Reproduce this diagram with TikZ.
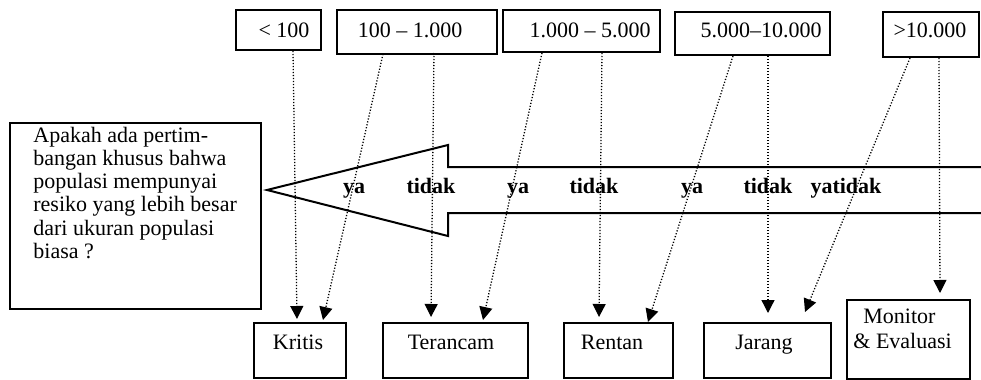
\documentclass[tikz,border=0pt]{standalone}
\usepackage{fontspec}
\setmainfont{Liberation Serif}
\usetikzlibrary{arrows.meta,calc}
\begin{document}
\begin{tikzpicture}[x=0.5pt,y=-0.5pt,
  box/.style={draw, line width=1pt, inner sep=0pt},
  lbl/.style={anchor=base, inner sep=0pt, font=\fontsize{11}{13}\selectfont},
  lblw/.style={anchor=base west, inner sep=0pt, font=\fontsize{11}{13}\selectfont},
  yt/.style={anchor=base, inner sep=0pt, font=\fontsize{11}{13}\selectfont\bfseries},
  conn/.style={line width=0.65pt, dash pattern=on 0.6pt off 0.9pt, -{Triangle[length=6.5pt,width=6.5pt]}}]
\useasboundingbox (0,0) rectangle (981,380);

% top range boxes
\node[box, minimum width=42.5pt, minimum height=20pt] (t1) at (278.5,30) {};
\node[box, minimum width=80pt,   minimum height=22pt] (t2) at (417,32) {};
\node[box, minimum width=78.5pt, minimum height=21pt] (t3) at (581.5,31) {};
\node[box, minimum width=77.5pt, minimum height=21.5pt] (t4) at (752.5,33.5) {};
\node[box, minimum width=48pt,   minimum height=22.5pt] (t5) at (931,34.5) {};
\node[lbl] (t1l) at (284,38) {< 100};
\node[lbl] (t2l) at (410,38) {100 – 1.000};
\node[lbl] (t3l) at (590,38) {1.000 – 5.000};
\node[lbl] (t4l) at (761,38) {5.000–10.000};
\node[lbl] (t5l) at (930,37) {>10.000};

% question box
\node[box, minimum width=125.5pt, minimum height=93pt] (q) at (135.5,216) {};
\node[lblw] (q1) at (33,142) {Apakah ada pertim-};
\node[lblw] (q2) at (33,165.3) {bangan khusus bahwa};
\node[lblw] (q3) at (33,188.6) {populasi mempunyai};
\node[lblw] (q4) at (33,211.9) {resiko yang lebih besar};
\node[lblw] (q5) at (33,235.2) {dari ukuran populasi};
\node[lblw] (q6) at (33,258.5) {biasa ?};

% big arrow
\draw[line width=1pt] (981,167) -- (448,167) -- (448,145) -- (267,190) -- (448,236) -- (448,213) -- (981,213);
\node[yt] (a1) at (354,193) {ya};
\node[yt] (a2) at (431,193) {tidak};
\node[yt] (a3) at (518,193) {ya};
\node[yt] (a4) at (594,193) {tidak};
\node[yt] (a5) at (692,193) {ya};
\node[yt] (a6) at (768,193) {tidak};
\node[yt] (a7) at (846,193) {yatidak};

% bottom category boxes
\node[box, minimum width=46pt,   minimum height=27.5pt] (b1) at (300,350.5) {};
\node[box, minimum width=72.5pt, minimum height=27.5pt] (b2) at (455.5,350.5) {};
\node[box, minimum width=54.5pt, minimum height=27.5pt] (b3) at (618.5,350.5) {};
\node[box, minimum width=63.5pt, minimum height=27.5pt] (b4) at (767.5,350.5) {};
\node[box, minimum width=61.5pt, minimum height=39.5pt] (b5) at (908.5,339.5) {};
\node[lbl] (b1l) at (298,349) {Kritis};
\node[lbl] (b2l) at (451,349) {Terancam};
\node[lbl] (b3l) at (612,349) {Rentan};
\node[lbl] (b4l) at (764,349) {Jarang};
\node[lblw] (b5l) at (863,323) {Monitor};
\node[lblw] (b5m) at (853,348) {\& Evaluasi};

% connectors
\draw[conn] ($(t1.south)+(14.5,0)$) -- ($(b1.north)+(-3,-3)$);
\draw[conn] ($(t2.south)+(-34,-1)$) -- ($(b1.north)+(23,-2)$);
\draw[conn] ($(t2.south)+(17,-2)$) -- ($(b2.north)+(-24.5,-5)$);
\draw[conn] ($(t3.south)+(-39.5,0)$) -- ($(b2.north)+(27.5,-2)$);
\draw[conn] ($(t3.south)+(20.5,0)$) -- ($(b3.north)+(-19.5,-5)$);
\draw[conn] ($(t4.south)+(-19.5,0)$) -- ($(b3.north)+(29.5,0)$);
\draw[conn] ($(t4.south)+(15.5,0)$) -- ($(b4.north)+(0.5,-9)$);
\draw[conn] ($(t5.south)+(-21,0)$) -- ($(b4.north)+(37.5,-10)$);
\draw[conn] ($(t5.south)+(8,0)$) -- ($(b5.north)+(31.5,-6)$);
\end{tikzpicture}
\end{document}
